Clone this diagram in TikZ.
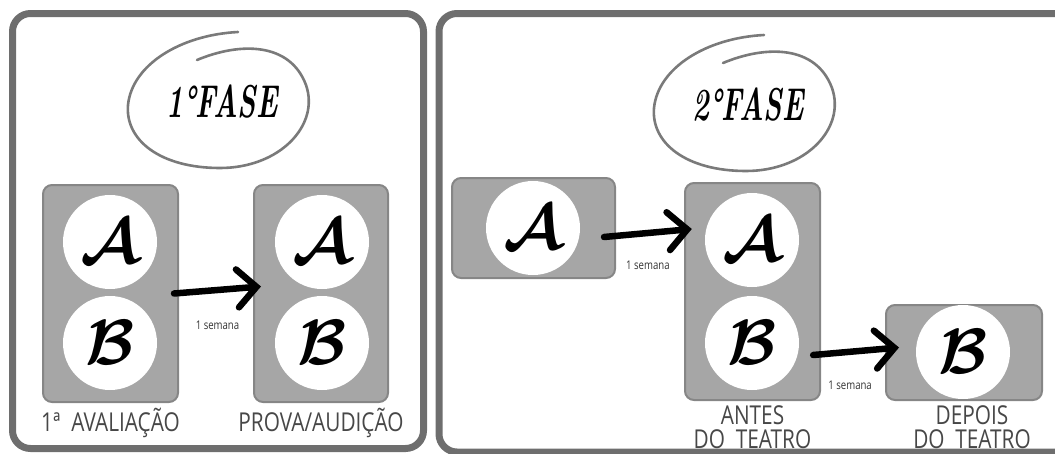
\documentclass[tikz,border=0pt]{standalone}
\usepackage{fontspec}
\usepackage{xcolor}
\newfontfamily\labelfont[FakeStretch=0.8]{Open Sans}
\newfontfamily\phasefont[FakeStretch=0.62]{Latin Modern Roman}
\definecolor{panelgray}{HTML}{6E6E6E}
\definecolor{boxgray}{HTML}{A6A6A6}
\definecolor{boxedge}{HTML}{868686}
\definecolor{ringgray}{HTML}{7A7A7A}
\usetikzlibrary{arrows.meta, positioning}
\newcommand{\turma}[1]{\scalebox{6.4}{\boldmath$\mathcal{#1}$}}

\begin{document}
\begin{tikzpicture}[x=1pt, y=-1pt,
    panel/.style={draw=panelgray, line width=7pt, rounded corners=18pt},
    group/.style={draw=boxedge, fill=boxgray, line width=2pt, rounded corners=9pt},
    student/.style={circle, fill=white, minimum size=94pt, inner sep=0pt},
    push/.style={line width=6.5pt, line cap=round, -{Straight Barb[length=19pt, width=38pt, line cap=round]}},
    note/.style={font=\labelfont\fontsize{12}{12}\selectfont, text=black!80},
    caption/.style={font=\labelfont\fontsize{26}{24}\selectfont, text=black!72, align=center},
    phase/.style={font=\phasefont\bfseries\itshape\fontsize{46}{46}\selectfont},
    ring/.style={draw=ringgray, line width=2.6pt, line cap=round}]
    \useasboundingbox (0,0) rectangle (1055,453);

    % Panels
    \draw[panel] (12.5,13.5) rectangle (423.5,448.5);
    \draw[panel] (439,13.5) rectangle (1080,452);

    % Phase titles
    \node[phase] (phaseone) at (222,102) {1°FASE};
    \node[phase] (phasetwo) at (748,105) {2°FASE};
    \foreach \p in {phaseone, phasetwo}
        \draw[ring, shift={(\p.center)}] (-25,-42) .. controls (18,-60) and (68,-60) .. (84,-17)
            .. controls (98,23) and (58,66) .. (-2,66) .. controls (-62,66) and (-97,38) .. (-94,3)
            .. controls (-90,-37) and (-42,-67) .. (16,-70);

    % 1st phase groups
    \node[group, minimum width=135pt, minimum height=217pt] (evalbox) at (110.5,293.5) {};
    \node[group, minimum width=134pt, minimum height=217pt] (auditbox) at (321,293.5) {};
    \node[student] (evalA) at (110,242) {\turma{A}};
    \node[student] (evalB) at (110,343) {\turma{B}};
    \node[student] (auditA) at (322,242) {\turma{A}};
    \node[student] (auditB) at (322,343) {\turma{B}};
    \node[caption, below=2pt of evalbox] (evalcap) {1ª\ \ AVALIAÇÃO};
    \node[caption, below=2pt of auditbox] (auditcap) {PROVA/AUDIÇÃO};

    % 2nd phase groups
    \node[group, minimum width=163pt, minimum height=100pt] (firstbox) at (533.5,228) {};
    \node[group, minimum width=135pt, minimum height=217pt] (beforebox) at (752.5,291.5) {};
    \node[group, minimum width=156pt, minimum height=95pt] (afterbox) at (964,352.5) {};
    \node[student] (firstA) at (533,228) {\turma{A}};
    \node[student] (beforeA) at (752,240) {\turma{A}};
    \node[student] (beforeB) at (752,343) {\turma{B}};
    \node[student] (afterB) at (963,352) {\turma{B}};
    \node[caption, below=1pt of beforebox] (beforecap) {ANTES\\DO\ \ TEATRO};
    \node[caption, below=1pt of afterbox, xshift=8pt] (aftercap) {DEPOIS\\DO\ \ TEATRO};

    % Transitions
    \draw[push] ([xshift=-5pt]evalbox.east) -- node[note, below=24pt] (noteone) {1 semana} ([xshift=8pt, yshift=7pt]auditbox.west);
    \draw[push] ([xshift=-12pt, yshift=-9pt]firstbox.east) -- node[note, below=21pt] (notetwo) {1 semana} ([xshift=-13pt, yshift=11pt]beforeA.west);
    \draw[push] ([xshift=14pt, yshift=-12pt]beforeB.east) -- node[note, below=23pt, xshift=-6pt] (notethree) {1 semana} ([xshift=14pt, yshift=5pt]afterbox.west);
\end{tikzpicture}
\end{document}
